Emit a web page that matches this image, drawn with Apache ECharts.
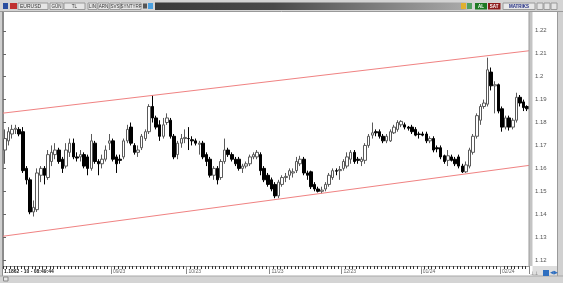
<!DOCTYPE html>
<html><head><meta charset="utf-8">
<script src="https://cdn.jsdelivr.net/npm/echarts@6/dist/echarts.min.js"></script>
<style>html,body{margin:0;padding:0;background:#fff}#c{width:563px;height:283px}</style>
</head><body><div id="c"></div>
<script>
// ---- data ----
const opens = [1.168,1.172,1.175,1.177,1.177,1.176,1.160,1.155,1.141,1.142,1.157,1.160,1.156,1.163,1.166,1.168,1.164,1.161,1.167,1.171,
1.165,1.165,1.166,1.165,1.160,1.171,1.163,1.162,1.164,1.171,1.172,1.165,1.164,1.165,1.172,1.178,1.170,1.167,1.169,1.173,
1.176,1.187,1.182,1.179,1.174,1.180,1.181,1.174,1.166,1.171,1.173,1.173,1.1725,1.172,1.1705,1.171,1.166,1.164,1.157,1.160,
1.156,1.163,1.168,1.166,1.164,1.164,1.160,1.161,1.162,1.165,1.165,1.166,1.160,1.157,1.155,1.153,1.148,1.153,1.156,1.157,
1.158,1.159,1.162,1.164,1.158,1.1585,1.153,1.151,1.150,1.151,1.153,1.156,1.159,1.159,1.160,1.161,1.164,1.167,1.164,1.163,
1.1635,1.170,1.1745,1.176,1.176,1.174,1.172,1.172,1.1755,1.177,1.179,1.179,1.178,1.178,1.177,1.175,1.175,1.175,1.172,1.173,
1.169,1.169,1.1655,1.1635,1.165,1.164,1.165,1.161,1.1585,1.161,1.167,1.174,1.181,1.187,1.188,1.202,1.196,1.1965,1.186,1.178,
1.182,1.178,1.181,1.191,1.189,1.187];
const closes = [1.173,1.176,1.177,1.1775,1.175,1.159,1.155,1.141,1.143,1.158,1.160,1.157,1.166,1.167,1.168,1.163,1.160,1.168,1.171,1.165,
1.1645,1.166,1.161,1.160,1.172,1.163,1.162,1.164,1.168,1.172,1.164,1.162,1.1635,1.172,1.177,1.171,1.167,1.168,1.174,1.176,
1.187,1.182,1.178,1.174,1.179,1.182,1.174,1.165,1.171,1.173,1.1735,1.173,1.172,1.171,1.171,1.165,1.163,1.157,1.160,1.155,
1.163,1.168,1.166,1.164,1.162,1.160,1.161,1.162,1.165,1.166,1.167,1.159,1.155,1.153,1.151,1.148,1.154,1.156,1.1565,1.159,
1.1585,1.163,1.164,1.158,1.157,1.152,1.151,1.150,1.1505,1.153,1.157,1.159,1.1588,1.1595,1.163,1.165,1.167,1.163,1.1635,1.164,
1.170,1.174,1.1755,1.1755,1.174,1.172,1.174,1.176,1.178,1.180,1.1805,1.178,1.1775,1.176,1.1745,1.1748,1.1745,1.172,1.173,1.168,
1.1685,1.165,1.163,1.1655,1.1635,1.162,1.161,1.1585,1.1615,1.168,1.174,1.183,1.187,1.1885,1.203,1.196,1.1965,1.185,1.178,1.182,
1.178,1.181,1.191,1.1885,1.1865,1.186];
const lows = [1.162,1.170,1.173,1.175,1.174,1.158,1.153,1.140,1.139,1.141,1.154,1.153,1.155,1.161,1.164,1.162,1.158,1.160,1.165,1.164,
1.163,1.163,1.160,1.157,1.159,1.162,1.157,1.160,1.163,1.168,1.163,1.158,1.162,1.164,1.171,1.170,1.166,1.165,1.168,1.172,
1.175,1.180,1.177,1.172,1.173,1.179,1.173,1.164,1.164,1.169,1.171,1.168,1.170,1.170,1.166,1.164,1.161,1.156,1.155,1.153,
1.155,1.162,1.165,1.163,1.161,1.159,1.158,1.160,1.161,1.164,1.164,1.157,1.154,1.152,1.150,1.147,1.147,1.152,1.154,1.155,
1.156,1.158,1.161,1.157,1.155,1.151,1.150,1.1495,1.149,1.150,1.152,1.155,1.157,1.155,1.159,1.160,1.162,1.162,1.162,1.161,
1.162,1.169,1.173,1.174,1.173,1.171,1.171,1.1715,1.175,1.176,1.178,1.177,1.1765,1.175,1.174,1.173,1.174,1.171,1.171,1.167,
1.167,1.164,1.162,1.161,1.163,1.161,1.160,1.158,1.158,1.160,1.166,1.173,1.179,1.186,1.187,1.194,1.184,1.184,1.176,1.177,
1.1765,1.177,1.180,1.187,1.185,1.185];
const highs = [1.177,1.178,1.179,1.179,1.178,1.178,1.161,1.156,1.146,1.160,1.161,1.161,1.168,1.170,1.171,1.169,1.165,1.171,1.173,1.173,
1.167,1.168,1.167,1.166,1.175,1.172,1.164,1.166,1.170,1.175,1.173,1.166,1.166,1.173,1.179,1.180,1.171,1.170,1.175,1.177,
1.188,1.192,1.183,1.181,1.182,1.184,1.182,1.175,1.172,1.175,1.177,1.178,1.174,1.173,1.172,1.172,1.167,1.165,1.161,1.161,
1.164,1.173,1.169,1.167,1.165,1.165,1.162,1.163,1.166,1.167,1.168,1.167,1.161,1.158,1.156,1.154,1.155,1.157,1.158,1.160,
1.160,1.165,1.1655,1.165,1.159,1.159,1.154,1.152,1.152,1.154,1.158,1.160,1.160,1.161,1.164,1.167,1.168,1.168,1.165,1.165,
1.171,1.175,1.180,1.177,1.177,1.175,1.175,1.177,1.179,1.181,1.181,1.180,1.1785,1.179,1.178,1.176,1.176,1.176,1.174,1.174,
1.170,1.170,1.166,1.168,1.166,1.165,1.166,1.162,1.163,1.169,1.175,1.184,1.188,1.190,1.2083,1.204,1.198,1.197,1.187,1.183,
1.183,1.182,1.193,1.192,1.190,1.1875];
const monthStartIdx = [30, 51, 74, 94, 116, 138];
const monthLabels = ['09/23', '10/23', '11/23', '12/23', '01/24', '02/24'];
const channelX = [0, 1];
const channelUpper = [1.1841, 1.2113];
const channelLower = [1.1304, 1.1613];
const statusText = '1.1862 - 10 - 08:49:44';
const symbolText = 'EURUSD';
const toolbarButtons = ['GÜN', 'TL', 'LIN', 'ARN', 'SVS', 'SYNTYRF'];

// ---- build ----
const categories = opens.map((_, i) => String(i));
const ohlc = opens.map((o, i) => [o, closes[i], lows[i], highs[i]]);
const monthLabelOf = {};
monthStartIdx.forEach((k, j) => { monthLabelOf[k] = monthLabels[j]; });

const FONT = 'Liberation Sans';
const g = [];
function rect(x, y, w, h, fill, stroke, z) {
  g.push({ type: 'rect', shape: { x, y, width: w, height: h }, style: { fill, stroke: stroke || null, lineWidth: stroke ? 1 : 0 }, z: z || 100, silent: true });
}
function txt(x, y, t, color, size, weight, align, z) {
  g.push({ type: 'text', x, y, style: { text: t, fill: color, font: (weight || 'normal') + ' ' + size + 'px "' + FONT + '"', textAlign: align || 'left', textVerticalAlign: 'middle' }, z: z || 110, silent: true });
}
function line(x1, y1, x2, y2, color, z) {
  g.push({ type: 'line', shape: { x1, y1, x2, y2 }, style: { stroke: color, lineWidth: 1 }, z: z || 105, silent: true });
}
// frame
rect(0, 0, 563, 11.5, '#d4d4d4');
line(0, 11.5, 563, 11.5, '#9a9a9a');
rect(0, 11.5, 2.5, 272, '#cfcfcf');
line(2.5, 11.5, 2.5, 276, '#8c8c8c');
rect(529, 11.5, 3.5, 254.5, '#c4c4c4');
line(529, 11.5, 529, 266, '#9a9a9a');
rect(557.5, 11.5, 6, 272, '#d0d0d0');
line(557.5, 11.5, 557.5, 276, '#9a9a9a');
rect(2.5, 266, 526.5, 10, '#ffffff');
rect(532.5, 266, 25, 10, '#dedede');
rect(0, 276, 563, 7, '#d4d4d4');
line(0, 276, 563, 276, '#a8a8a8');
// toolbar
rect(3, 3, 5, 6, '#2a4fa0', null, 106);
rect(10, 3, 7, 6, '#c03030', null, 106);
rect(18, 3, 30, 6.5, '#e6e6e6', '#9a9a9a', 106);
txt(20, 6.3, symbolText, '#333', 5, 'normal');
const btnX = [50, 64, 88, 98, 110, 121];
const btnW = [13, 21, 9, 11, 10, 20];
toolbarButtons.forEach((b, i) => {
  rect(btnX[i], 3, btnW[i], 6.5, '#e6e6e6', '#9a9a9a', 106);
  txt(btnX[i] + btnW[i] / 2, 6.3, b, '#333', 4.5, 'normal', 'center');
});
rect(143, 3.5, 4, 5, '#555', null, 106);
rect(148, 3, 5, 6, '#4aa0e0', null, 106);
g.push({ type: 'rect', shape: { x: 155, y: 2.5, width: 395, height: 7.5 }, style: { fill: { type: 'linear', x: 0, y: 0, x2: 1, y2: 0, colorStops: [
  { offset: 0, color: '#3a3a3a' }, { offset: 0.3, color: '#4a4a4a' }, { offset: 0.78, color: '#a8a8a8' }, { offset: 0.8, color: '#d4d4d4' }, { offset: 1, color: '#d4d4d4' }] } }, z: 104, silent: true });
rect(461, 3, 5, 6, '#e0b030', null, 106);
rect(467, 3, 5, 6, '#50a060', null, 106);
rect(475, 3, 12, 6.5, '#1e7a24', null, 106);
txt(481, 6.3, 'AL', '#fff', 4.5, 'bold', 'center');
rect(488, 3, 12.5, 6.5, '#8e1c1c', null, 106);
txt(494.2, 6.3, 'SAT', '#fff', 4.5, 'bold', 'center');
rect(503, 3, 32, 6.5, '#e8e8e8', '#9a9a9a', 106);
txt(519, 6.3, 'MATRIKS', '#1e2a80', 4.5, 'bold', 'center');
rect(537, 3, 6, 6.5, '#e4e4e4', '#9a9a9a', 106);
rect(544, 3, 6, 6.5, '#e4e4e4', '#9a9a9a', 106);
rect(551, 3, 6, 6.5, '#e4e4e4', '#9a9a9a', 106);
// status / bottom bar
txt(4, 272, statusText, '#222', 5, 'bold');
rect(3.5, 277, 4.5, 4, '#e8e8e8', '#888', 106);
txt(530, 273.5, '⊥⊥', '#666', 4.5, 'normal');
rect(543, 270, 6, 6, '#2f6fc0', null, 106);
txt(550, 273, '◀▶', '#2f6fc0', 4.5, 'normal');

const option = {
  animation: false,
  backgroundColor: '#ffffff',
  grid: [
    { left: 3, width: 526, top: 7.9, height: 277.2, show: false },
    { left: 3, width: 526, top: 265, height: 1, show: false }
  ],
  xAxis: [
    { type: 'category', gridIndex: 0, data: categories, boundaryGap: true, show: false },
    { type: 'category', gridIndex: 1, data: categories, boundaryGap: true, position: 'bottom', z: 200,
      axisLine: { show: true, lineStyle: { color: '#9a9a9a', width: 1 } },
      axisTick: { show: true, interval: 0, length: 3, lineStyle: { color: '#333', width: 1 } },
      axisLabel: { show: false }, splitLine: { show: false } },
    { type: 'category', gridIndex: 1, data: categories, boundaryGap: true, position: 'bottom', z: 201,
      axisLine: { show: false },
      axisTick: { show: true, length: 8, interval: (idx) => monthLabelOf[idx] !== undefined, lineStyle: { color: '#8a8a8a', width: 1 } },
      axisLabel: { show: true, interval: (idx) => monthLabelOf[idx] !== undefined, formatter: (v, idx) => monthLabelOf[idx] || '',
        align: 'left', margin: 3, fontSize: 5, color: '#666', fontFamily: FONT },
      splitLine: { show: false } },
    { type: 'value', gridIndex: 0, min: 0, max: 1, show: false }
  ],
  yAxis: [
    { type: 'value', gridIndex: 0, position: 'right', offset: 4, min: 1.11, max: 1.23, interval: 0.01, scale: true,
      axisLine: { show: true, lineStyle: { color: '#8a8a8a' } },
      axisTick: { show: true, length: 3, lineStyle: { color: '#666' } },
      axisLabel: { show: true, margin: 2, fontSize: 6, color: '#555', fontFamily: FONT,
        formatter: (v) => { const r = Math.round(v * 100) / 100; return (r < 1.115 || r > 1.225) ? '' : String(r); } },
      splitLine: { show: false } },
    { type: 'value', gridIndex: 1, min: 0, max: 1, show: false }
  ],
  series: [
    { type: 'candlestick', xAxisIndex: 0, yAxisIndex: 0, data: ohlc, barWidth: 3,
      itemStyle: { color: '#ffffff', borderColor: '#5a5a5a', color0: '#000000', borderColor0: '#000000', borderWidth: 1 }, silent: true },
    { type: 'line', xAxisIndex: 3, yAxisIndex: 0, data: channelX.map((x, i) => [x, channelUpper[i]]), symbol: 'none',
      lineStyle: { color: '#f08282', width: 1 }, silent: true },
    { type: 'line', xAxisIndex: 3, yAxisIndex: 0, data: channelX.map((x, i) => [x, channelLower[i]]), symbol: 'none',
      lineStyle: { color: '#f08282', width: 1 }, silent: true }
  ],
  graphic: { elements: g }
};
const chart = echarts.init(document.getElementById('c'), null, { renderer: 'canvas' });
chart.setOption(option);
</script>
</body></html>
